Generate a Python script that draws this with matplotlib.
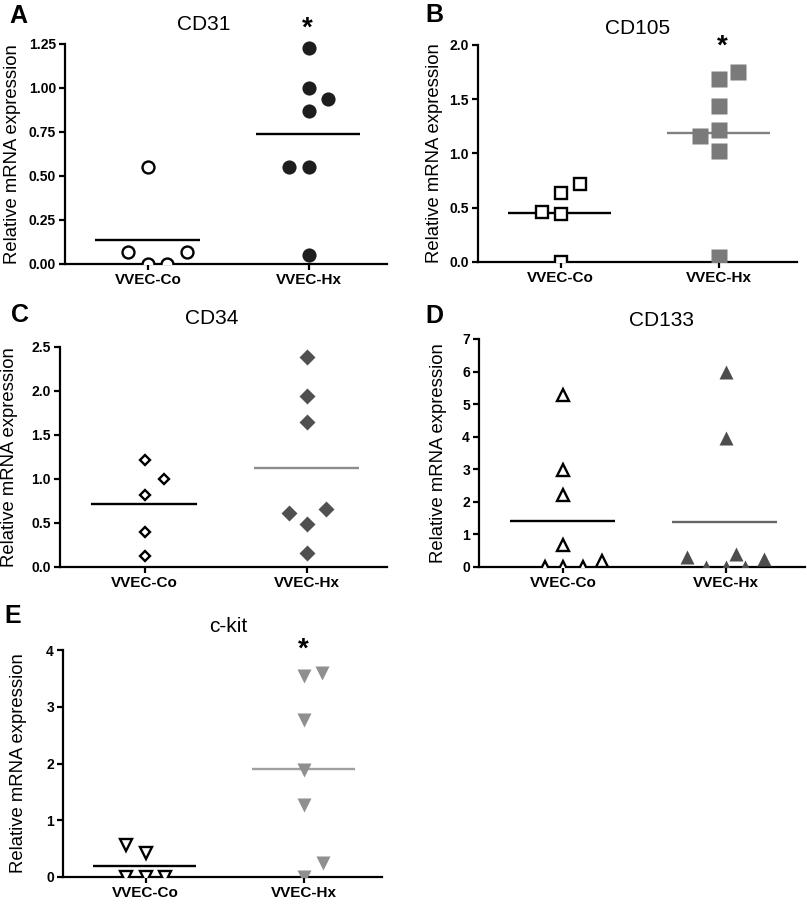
import numpy as np
import matplotlib
matplotlib.use('Agg')
import matplotlib.pyplot as plt

plt.rcParams['font.family'] = ['Liberation Sans', 'DejaVu Sans']

W, H = 807, 906

groups = ['VVEC-Co', 'VVEC-Hx']
ylabel = 'Relative mRNA expression'

# values
cd31_co = [0.55, 0.07, 0.0, 0.0, 0.07]
cd31_hx = [1.23, 1.00, 0.94, 0.87, 0.55, 0.55, 0.05]

cd105_co = [0.72, 0.64, 0.46, 0.44, 0.0]
cd105_hx = [1.75, 1.69, 1.44, 1.22, 1.16, 1.02, 0.05]

cd34_co = [1.22, 1.00, 0.82, 0.40, 0.12]
cd34_hx = [2.39, 1.94, 1.65, 0.66, 0.61, 0.49, 0.16]

cd133_co = [5.28, 2.98, 2.21, 0.67, 0.0, 0.0, 0.0, 0.18]
cd133_hx = [6.00, 3.95, 0.31, 0.0, 0.0, 0.41, 0.0, 0.26]

ckit_co = [0.56, 0.43, 0.0, 0.0, 0.0]
ckit_hx = [3.59, 3.54, 2.76, 1.88, 1.26, 0.24, 0.0]

# scatter offsets of the points (layout only)
off_cd31_co = [0, -0.125, 0, 0.118, 0.24]
off_cd31_hx = [0, 0, 0.122, 0, -0.122, 0, 0]
off_cd105_co = [0.12, 0, -0.116, 0, 0]
off_cd105_hx = [0.12, 0, 0, 0, -0.12, 0, 0]
off_cd34_co = [0, 0.118, 0, 0, 0]
off_cd34_hx = [0, 0, 0, 0.115, -0.115, 0, 0]
off_cd133_co = [0, 0, 0, 0, -0.115, 0, 0.12, 0.24]
off_cd133_hx = [0, 0, -0.236, -0.119, 0, 0.062, 0.12, 0.236]
off_ckit_co = [-0.125, 0, -0.12, 0, 0.12]
off_ckit_hx = [0.115, 0, 0, 0, 0, 0.12, 0]

panels = [
    dict(letter='A', title='CD31', box=(65, 44, 387, 264), ymax=1.25, step=0.25, fmt='%.2f',
         co=cd31_co, hx=cd31_hx, oco=off_cd31_co, ohx=off_cd31_hx,
         mk='o', ms_co=8.6, ms_hx=10.2, fill='#1e1e1e', line_hx='#000000',
         tpos=(204, 25), lpos=(18, 16), star=(307, 22), ylx=-0.137),
    dict(letter='B', title='CD105', box=(478, 45, 797, 262), ymax=2.0, step=0.5, fmt='%.1f',
         co=cd105_co, hx=cd105_hx, oco=off_cd105_co, ohx=off_cd105_hx,
         mk='s', ms_co=9.2, ms_hx=11, fill='#7a7a7a', line_hx='#808080',
         tpos=(638, 28), lpos=(434, 15), star=(722, 40), ylx=-0.11),
    dict(letter='C', title='CD34', box=(60, 347, 387, 567), ymax=2.5, step=0.5, fmt='%.1f',
         co=cd34_co, hx=cd34_hx, oco=off_cd34_co, ohx=off_cd34_hx,
         mk='D', ms_co=5.6, ms_hx=7.8, fill='#505050', line_hx='#8c8c8c',
         tpos=(212, 318), lpos=(20, 315), star=None, ylx=-0.127),
    dict(letter='D', title='CD133', box=(479, 339, 805, 567), ymax=7, step=1, fmt='%d',
         co=cd133_co, hx=cd133_hx, oco=off_cd133_co, ohx=off_cd133_hx,
         mk='^', ms_co=9.0, ms_hx=10.5, fill='#4d4d4d', line_hx='#666666',
         tpos=(662, 320), lpos=(434, 316), star=None, ylx=-0.098),
    dict(letter='E', title='c-kit', box=(63, 650, 382, 877), ymax=4, step=1, fmt='%d',
         co=ckit_co, hx=ckit_hx, oco=off_ckit_co, ohx=off_ckit_hx,
         mk='v', ms_co=8.2, ms_hx=10, fill='#8f8f8f', line_hx='#a0a0a0',
         tpos=(228, 626), lpos=(13, 616), star=(303, 643), ylx=-0.114),
]

fig = plt.figure(figsize=(W / 100, H / 100), dpi=100)

for p in panels:
    left, top, right, bottom = p['box']
    # extra head room so top markers are not clipped, spine only up to ymax
    extra = 1.1
    top2 = bottom - (bottom - top) * extra
    ax = fig.add_axes([left / W, 1 - bottom / H, (right - left) / W, (bottom - top2) / H])
    ax.set_xlim(-0.52, 1.49)
    ax.set_ylim(0, p['ymax'] * extra)

    co = np.array(p['co'])
    hx = np.array(p['hx'])
    ax.plot(0 + np.array(p['oco']), co, linestyle='none', marker=p['mk'], ms=p['ms_co'],
            mfc='white', mec='black', mew=1.7, zorder=3)
    ax.plot(1 + np.array(p['ohx']), hx, linestyle='none', marker=p['mk'], ms=p['ms_hx'],
            mfc=p['fill'], mec='none', zorder=3)
    ax.hlines(co.mean(), -0.33, 0.32, color='black', lw=1.7, zorder=2)
    ax.hlines(hx.mean(), 1 - 0.33, 1.32, color=p['line_hx'], lw=1.7, zorder=2)

    for s in ['top', 'right']:
        ax.spines[s].set_visible(False)
    for s in ['left', 'bottom']:
        ax.spines[s].set_linewidth(1.6)
    ax.spines['left'].set_bounds(0, p['ymax'])

    ticks = np.arange(0, p['ymax'] + p['step'] / 2, p['step'])
    ax.set_yticks(ticks, labels=[p['fmt'] % t for t in ticks], fontsize=10, fontweight='bold')
    ax.set_xticks([0, 1], labels=groups, fontsize=11, fontweight='bold')
    ax.tick_params(axis='both', direction='out', length=4.5, width=1.6, pad=2)

    ax.set_ylabel(ylabel, fontsize=13.3)
    ax.yaxis.set_label_coords(p['ylx'], 0.5 / extra)

    fig.text(p['tpos'][0] / W, 1 - p['tpos'][1] / H, p['title'], fontsize=15,
             ha='center', va='center')
    fig.text(p['lpos'][0] / W, 1 - p['lpos'][1] / H, p['letter'], fontsize=18,
             fontweight='bold', ha='center', va='center')
    if p['star']:
        fig.text(p['star'][0] / W, 1 - (p['star'][1] + 14) / H, '*', fontsize=20,
                 fontweight='bold', ha='center', va='baseline')

fig.savefig('out.png', dpi=100)
